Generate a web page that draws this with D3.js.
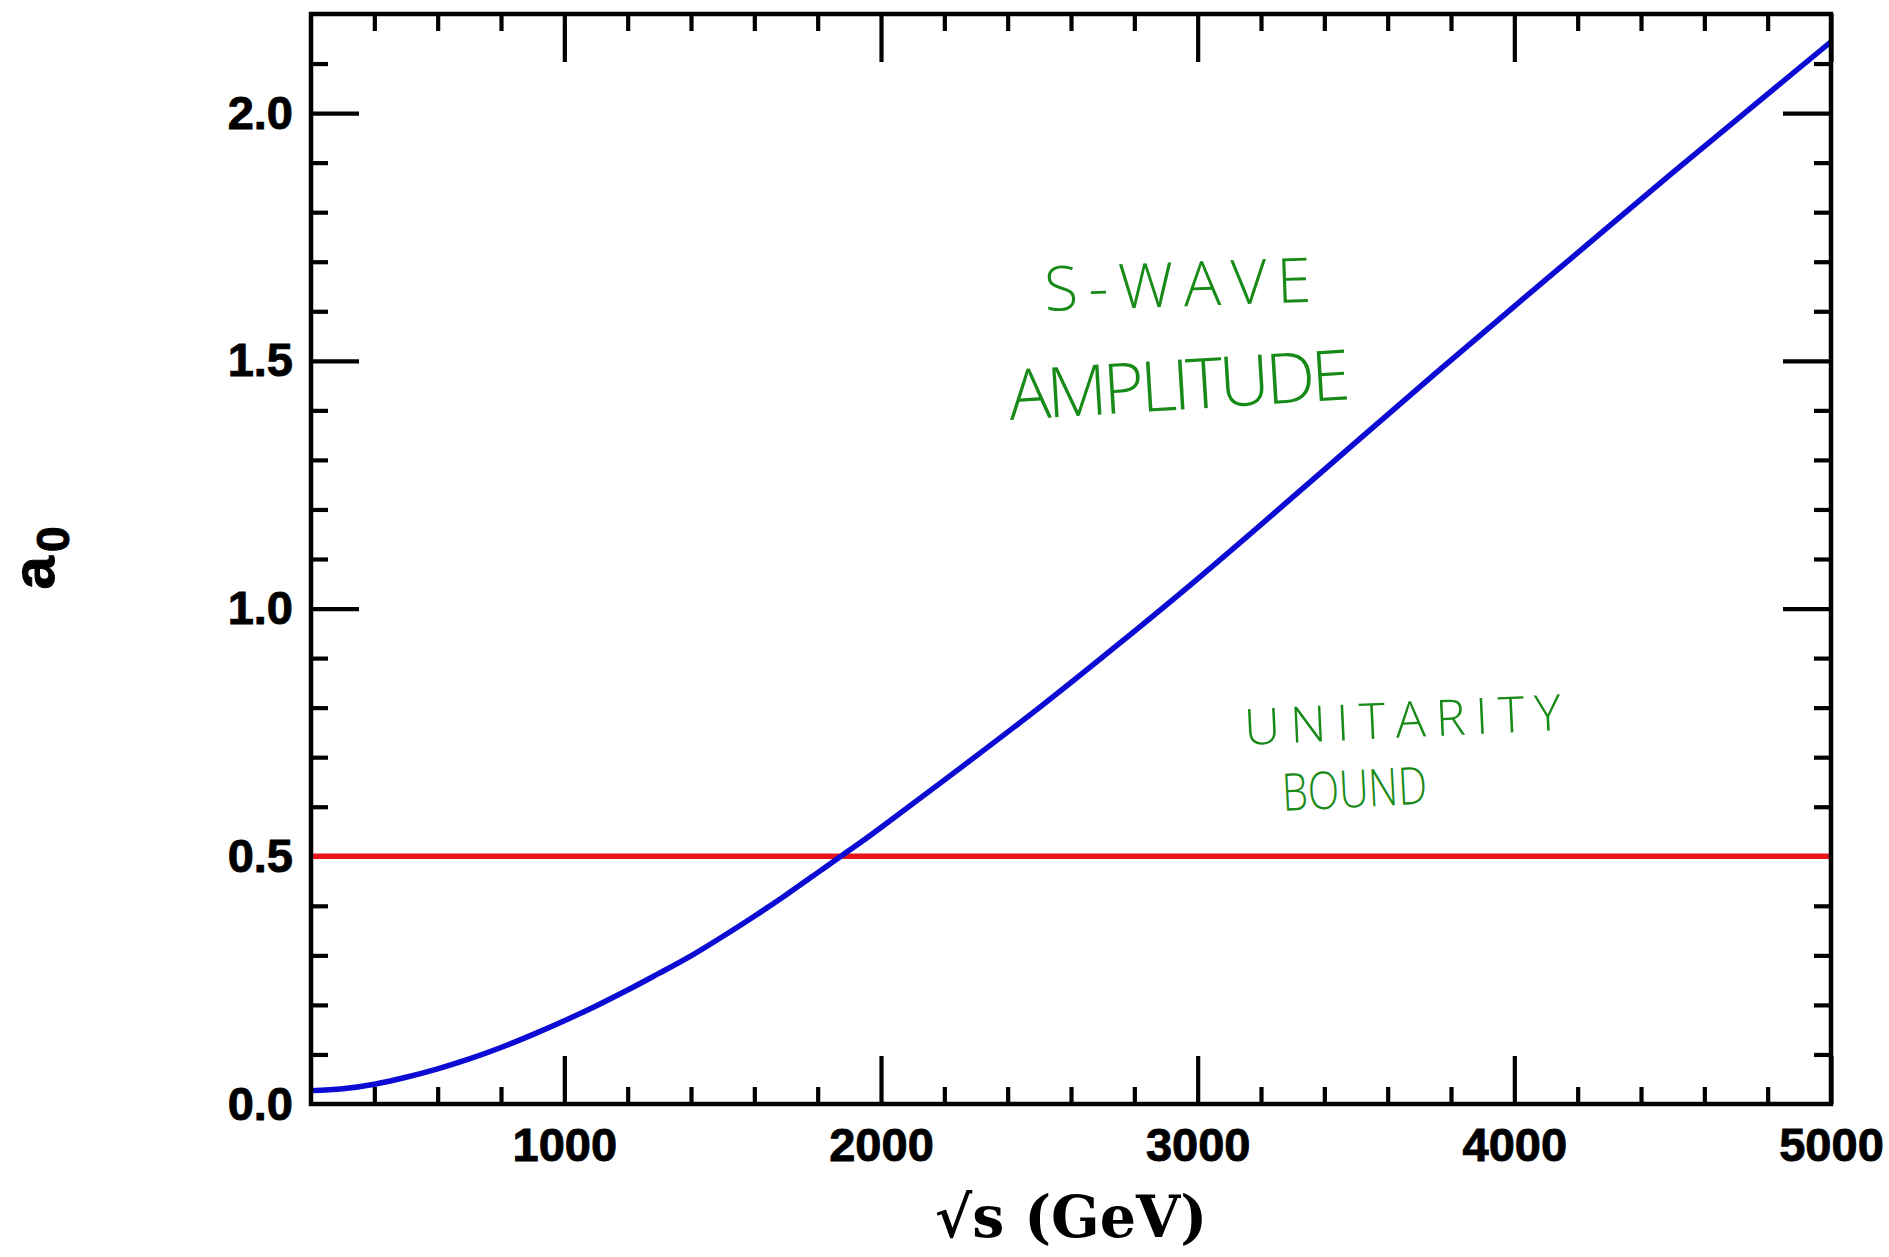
<!DOCTYPE html>
<html>
<head>
<meta charset="utf-8">
<script src="https://cdn.jsdelivr.net/npm/d3@7"></script>
<style>
  html, body { margin: 0; padding: 0; background: #ffffff; }
  svg { display: block; }
</style>
</head>
<body>
<svg id="chart" width="1889" height="1257"></svg>
<script>
// ---- data ----
const energyGeV   = [200, 300, 400, 500, 600, 700, 800, 900, 1000, 1100, 1200, 1300, 1400, 1500, 1600, 1700, 1800, 1900, 2000, 2250, 2500, 2750, 3000, 3250, 3500, 3750, 4000, 4250, 4500, 4750, 5000];
const amplitudeA0 = [0.027, 0.031, 0.040, 0.054, 0.071, 0.091, 0.114, 0.140, 0.168, 0.198, 0.230, 0.264, 0.299, 0.338, 0.379, 0.422, 0.467, 0.512, 0.558, 0.678, 0.800, 0.928, 1.060, 1.197, 1.336, 1.474, 1.610, 1.745, 1.880, 2.012, 2.144];
const unitarityBound = 0.5;

const xMajorTicks = [1000, 2000, 3000, 4000, 5000];
const xMinorTicks = [400, 600, 800, 1200, 1400, 1600, 1800, 2200, 2400, 2600, 2800, 3200, 3400, 3600, 3800, 4200, 4400, 4600, 4800];
const yMajorTicks = [0.5, 1.0, 1.5, 2.0];
const yMajorLabels = [0.0, 0.5, 1.0, 1.5, 2.0];
const yMinorTicks = [0.1, 0.2, 0.3, 0.4, 0.6, 0.7, 0.8, 0.9, 1.1, 1.2, 1.3, 1.4, 1.6, 1.7, 1.8, 1.9, 2.1];

const xTitle = "\u221As  (GeV)";
const yTitleMain = "a";
const yTitleSub = "0";
const noteWave = ["S-WAVE", "AMPLITUDE"];
const noteBound = ["UNITARITY", "BOUND"];

(function () {
// ---- layout ----
const pL = 311, pR = 1831, pT = 14, pB = 1104;
const svg = d3.select("#chart");
svg.append("rect").attr("width", 1889).attr("height", 1257).attr("fill", "#ffffff");

const x = d3.scaleLinear().domain([200, 5000]).range([pL, pR]);
const y = d3.scaleLinear().domain([0, 2.2]).range([pB, pT]);

const tickFont = "'Liberation Sans', Arial, Helvetica, sans-serif";

function styleAxis(g) {
  g.select(".domain").remove();
  g.selectAll(".tick line").attr("stroke", "#000").attr("stroke-width", 4.2);
  g.selectAll(".tick text")
    .attr("fill", "#000")
    .attr("stroke", "#000").attr("stroke-width", 0.9)
    .style("font-family", tickFont).style("font-weight", "bold").style("font-size", "47px");
}

// bottom axis
svg.append("g").attr("transform", `translate(0,${pB})`)
  .call(d3.axisBottom(x).tickValues(xMinorTicks).tickSizeInner(-17).tickSizeOuter(0).tickFormat(""))
  .call(styleAxis);
svg.append("g").attr("transform", `translate(0,${pB})`)
  .call(d3.axisBottom(x).tickValues(xMajorTicks).tickSizeInner(-48).tickSizeOuter(0).tickPadding(24).tickFormat(d3.format("d")))
  .call(styleAxis);
// top axis
svg.append("g").attr("transform", `translate(0,${pT})`)
  .call(d3.axisTop(x).tickValues(xMinorTicks).tickSizeInner(-17).tickSizeOuter(0).tickFormat(""))
  .call(styleAxis);
svg.append("g").attr("transform", `translate(0,${pT})`)
  .call(d3.axisTop(x).tickValues(xMajorTicks).tickSizeInner(-48).tickSizeOuter(0).tickFormat(""))
  .call(styleAxis);
// left axis
svg.append("g").attr("transform", `translate(${pL},0)`)
  .call(d3.axisLeft(y).tickValues(yMinorTicks).tickSizeInner(-17).tickSizeOuter(0).tickFormat(""))
  .call(styleAxis);
svg.append("g").attr("transform", `translate(${pL},0)`)
  .call(d3.axisLeft(y).tickValues(yMajorTicks).tickSizeInner(-48).tickSizeOuter(0).tickFormat(""))
  .call(styleAxis);
svg.append("g").attr("transform", `translate(${pL},0)`)
  .call(d3.axisLeft(y).tickValues(yMajorLabels).tickSize(0).tickPadding(18).tickFormat(d3.format(".1f")))
  .call(styleAxis);
// right axis
svg.append("g").attr("transform", `translate(${pR},0)`)
  .call(d3.axisRight(y).tickValues(yMinorTicks).tickSizeInner(-17).tickSizeOuter(0).tickFormat(""))
  .call(styleAxis);
svg.append("g").attr("transform", `translate(${pR},0)`)
  .call(d3.axisRight(y).tickValues(yMajorTicks).tickSizeInner(-48).tickSizeOuter(0).tickFormat(""))
  .call(styleAxis);

// unitarity bound line
svg.append("line")
  .attr("x1", x(200)).attr("x2", x(5000))
  .attr("y1", y(unitarityBound)).attr("y2", y(unitarityBound))
  .attr("stroke", "#e8141c").attr("stroke-width", 5.5);

// amplitude curve
const pts = energyGeV.map((e, i) => [e, amplitudeA0[i]]);
svg.append("path")
  .datum(pts)
  .attr("fill", "none")
  .attr("stroke", "#0b0bd4")
  .attr("stroke-width", 5.5)
  .attr("d", d3.line().x(d => x(d[0])).y(d => y(d[1])).curve(d3.curveNatural));

// frame
svg.append("rect")
  .attr("x", pL).attr("y", pT).attr("width", pR - pL).attr("height", pB - pT)
  .attr("fill", "none").attr("stroke", "#000").attr("stroke-width", 4.5);

// axis titles
svg.append("text")
  .attr("x", (pL + pR) / 2).attr("y", 1237)
  .attr("text-anchor", "middle")
  .style("font-family", "'DejaVu Serif', 'Liberation Serif', serif")
  .style("font-weight", "bold").style("font-size", "57px")
  .attr("fill", "#000")
  .text(xTitle);

const yt = svg.append("text")
  .attr("transform", "translate(54,558) rotate(-90)")
  .attr("text-anchor", "middle")
  .style("font-family", tickFont).style("font-weight", "bold")
  .attr("fill", "#000").attr("stroke", "#000").attr("stroke-width", 1);
yt.append("tspan").style("font-size", "60px").text(yTitleMain);
yt.append("tspan").attr("dy", 15).attr("dx", 4).style("font-size", "46px").text(yTitleSub);

// handwritten-style notes
const noteFont = "'Open Sans', 'DejaVu Sans', sans-serif";
function note(txt, x0, y0, size, len, angle, adjust) {
  svg.append("text")
    .attr("transform", `translate(${x0},${y0}) rotate(${angle})`)
    .attr("textLength", len).attr("lengthAdjust", adjust || "spacing")
    .style("font-family", noteFont).style("font-weight", 300).style("font-size", size + "px")
    .attr("fill", "#178a17")
    .text(txt);
}
note(noteWave[0], 1045, 311, 62, 267, -2);
note(noteWave[1], 1010, 420, 70, 342, -3.5);
note(noteBound[0], 1245, 745, 50, 317, -2.7);
note(noteBound[1], 1283, 811, 52, 145, -3, "spacingAndGlyphs");
})();
</script>
</body>
</html>
